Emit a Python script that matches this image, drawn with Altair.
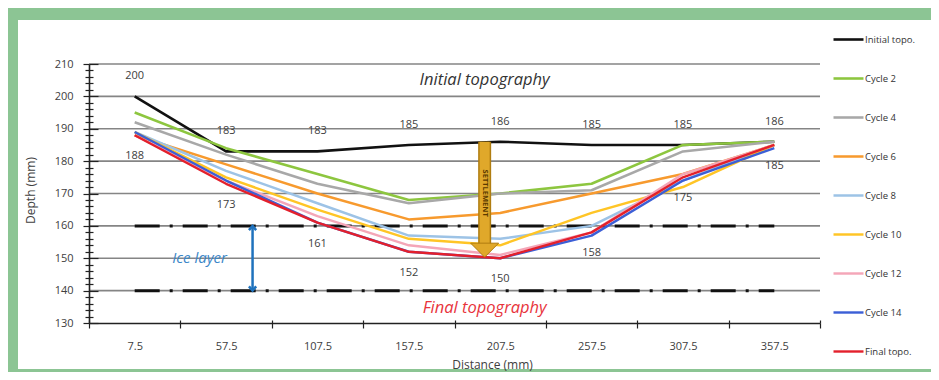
import altair as alt
import pandas as pd

# ---------------- data ----------------
distance = [7.5, 57.5, 107.5, 157.5, 207.5, 257.5, 307.5, 357.5]

series_names = ["Initial topo.", "Cycle 2", "Cycle 4", "Cycle 6", "Cycle 8",
                "Cycle 10", "Cycle 12", "Cycle 14", "Final topo."]
initial_topo = [200, 183, 183, 185, 186, 185, 185, 186]
cycle_2 = [195, 184, 176, 168, 170, 173, 185, 186]
cycle_4 = [192, 182, 173, 167, 170, 171, 183, 186]
cycle_6 = [188, 179, 170, 162, 164, 170, 176, 185]
cycle_8 = [189, 177, 167, 157, 156, 160, 174, 185]
cycle_10 = [189, 175, 165, 156, 154, 164, 172, 185]
cycle_12 = [188, 174, 163, 154, 151, 158, 176, 185]
cycle_14 = [189, 174, 161, 152, 150, 157, 174, 184]
final_topo = [188, 173, 161, 152, 150, 158, 175, 185]
all_series = [initial_topo, cycle_2, cycle_4, cycle_6, cycle_8,
              cycle_10, cycle_12, cycle_14, final_topo]

series_colors = ["#111111", "#8dc63f", "#a8a8a8", "#f79a2e", "#9dc3e6",
                 "#ffc526", "#f4a6b8", "#3c5fd6", "#e3202c"]
series_widths = [2.6, 2.4, 2, 2, 2, 2, 2, 2, 3]

ice_layer_limits = [160, 140]
grid_values = [140, 150, 160, 170, 180, 190, 200, 210]
y_domain = [130, 210]

# annotation anchors (data coordinates)
settle_x, settle_top, settle_shaft_end, settle_head = 199, 186, 154.2, 152.5
ice_arrow_x, ice_text_x, ice_text_y = 72, 43, 150
title_x, initial_title_y, final_title_y = 199, 205, 134.6

# ---------------- build tables ----------------
rows = []
for name, vals in zip(series_names, all_series):
    for d, v in zip(distance, vals):
        rows.append({"series": name, "dist": d, "depth": v})
df = pd.DataFrame(rows)

top_lbl = pd.DataFrame({"dist": distance, "v": initial_topo})
bot_lbl = pd.DataFrame({"dist": distance, "v": final_topo})

half = (distance[1] - distance[0]) / 2
x_lo, x_hi = distance[0] - half, distance[-1] + half
boundaries = [d - half for d in distance] + [x_hi]
x_tick_values = sorted(boundaries + distance)
y_tick_values = list(range(y_domain[0], y_domain[1] + 1, 2))

W, H = 731, 259
FONT = "Open Sans"
TXT = "#404040"

xscale = alt.Scale(domain=[x_lo, x_hi], nice=False, zero=False)
yscale = alt.Scale(domain=y_domain, nice=False, zero=False)

x_axis = alt.Axis(
    values=x_tick_values,
    labelExpr="((datum.value + 17.5) % 50 == 25) ? format(datum.value, '.1f') : ''",
    tickOpacity={"condition": {"test": "(datum.value + 17.5) % 50 == 0", "value": 1}, "value": 0},
    tickSize=5, tickColor="#222", tickWidth=1.2,
    domainColor="#222", domainWidth=1.6,
    labelPadding=12, labelFlush=False, labelOverlap=False,
    labelFont=FONT, labelFontSize=11, labelColor=TXT,
    grid=False,
    title="Distance (mm)", titleFont=FONT, titleFontSize=12, titleFontWeight="normal",
    titleColor=TXT, titleX=403, titleY=41, titleAlign="center", titleBaseline="middle",
    zindex=1,
)
x_axis_inner = alt.Axis(
    orient="top", offset=-H, values=boundaries, labels=False, domain=False,
    grid=False, title="", tickSize=3, tickColor="#222", tickWidth=1.2, zindex=1,
)
y_axis = alt.Axis(
    values=y_tick_values,
    labelExpr="datum.value % 10 == 0 ? datum.label : ''",
    tickSize={"condition": {"test": "datum.value % 10 == 0", "value": 6}, "value": 4},
    tickColor="#222", tickWidth=1.2,
    domainColor="#222", domainWidth=1.6,
    labelPadding=10, labelOverlap=False,
    labelFont=FONT, labelFontSize=11, labelColor=TXT,
    grid=False,
    title="Depth (mm)", titleFont=FONT, titleFontSize=12, titleFontWeight="normal",
    titleColor=TXT, titleX=-59, titleY=126, titleAngle=-90,
    titleAlign="center", titleBaseline="middle",
    zindex=1,
)
y_axis_inner = alt.Axis(
    orient="right", offset=-W, values=y_tick_values, labels=False, domain=False,
    grid=False, title="",
    tickSize={"condition": {"test": "datum.value % 10 == 0", "value": 9}, "value": 4},
    tickColor="#222", tickWidth=1.2, zindex=1,
)

one = pd.DataFrame({"a": [0]})

# white panel inside the green frame
panel = alt.Chart(one).mark_rect(color="white").encode(
    x=alt.value(-71), x2=alt.value(W + 111), y=alt.value(-44), y2=alt.value(H + 46)
)

grid = alt.Chart(pd.DataFrame({"g": grid_values})).mark_rule(
    color="#858585", strokeWidth=1.6
).encode(y=alt.Y("g:Q", scale=yscale, axis=y_axis_inner))

ice = alt.Chart(pd.DataFrame({"v": ice_layer_limits, "x0": distance[0], "x1": distance[-1]})).mark_rule(
    color="#111111", strokeWidth=3, strokeDash=[25, 10, 3, 10]
).encode(
    x=alt.X("x0:Q", scale=xscale, axis=x_axis_inner),
    x2="x1:Q",
    y=alt.Y("v:Q", scale=yscale, axis=None),
)

lines = alt.Chart(df).mark_line(strokeJoin="round").encode(
    x=alt.X("dist:Q", scale=xscale, axis=x_axis),
    y=alt.Y("depth:Q", scale=yscale, axis=y_axis),
    color=alt.Color(
        "series:N",
        scale=alt.Scale(domain=series_names, range=series_colors),
        sort=series_names,
        legend=alt.Legend(
            orient="none", legendX=743, legendY=-41, title=None,
            symbolType="stroke", symbolSize=900, symbolStrokeWidth=3,
            labelFont=FONT, labelFontSize=9.5, labelColor="#333",
            rowPadding=17, labelOffset=0, padding=0,
        ),
    ),
    strokeWidth=alt.StrokeWidth(
        "series:N", scale=alt.Scale(domain=series_names, range=series_widths), legend=None
    ),
)

xa = lambda f: alt.X(f, scale=xscale, axis=None)
ya = lambda f: alt.Y(f, scale=yscale, axis=None)

top_text = alt.Chart(top_lbl).mark_text(
    dy=-20, font=FONT, fontSize=11, color=TXT
).encode(x=xa("dist:Q"), y=ya("v:Q"), text="v:Q")
bot_text = alt.Chart(bot_lbl).mark_text(
    dy=21, font=FONT, fontSize=11, color=TXT
).encode(x=xa("dist:Q"), y=ya("v:Q"), text="v:Q")

# settlement arrow
settle_df = pd.DataFrame({"x": [settle_x], "y": [settle_top], "y2": [settle_shaft_end],
                          "h": [settle_head], "m": [(settle_top + settle_shaft_end) / 2]})
shaft_edge = alt.Chart(settle_df).mark_rule(color="#b07d10", strokeWidth=13).encode(
    x=xa("x:Q"), y=ya("y:Q"), y2="y2:Q")
shaft = alt.Chart(settle_df).mark_rule(color="#e0a82a", strokeWidth=10).encode(
    x=xa("x:Q"), y=ya("y:Q"), y2="y2:Q")
head = alt.Chart(settle_df).mark_point(
    shape="M-1,-0.5L1,-0.5L0,0.5Z", size=784, filled=True, fill="#e0a82a",
    stroke="#b07d10", strokeWidth=1, opacity=1
).encode(x=xa("x:Q"), y=ya("h:Q"))
settle_txt = alt.Chart(settle_df).mark_text(
    text="SETTLEMENT", angle=90, font=FONT, fontSize=7.5, fontWeight="bold", color="#5a3a00"
).encode(x=xa("x:Q"), y=ya("m:Q"))

# ice layer arrow
ice_df = pd.DataFrame({"x": [ice_arrow_x], "top": [ice_layer_limits[0]], "bot": [ice_layer_limits[1]],
                       "tx": [ice_text_x], "ty": [ice_text_y]})
ICE_BLUE = "#1f72bd"
ice_shaft = alt.Chart(ice_df).mark_rule(color=ICE_BLUE, strokeWidth=2.5).encode(
    x=xa("x:Q"), y=ya("top:Q"), y2="bot:Q")
ice_up = alt.Chart(ice_df).mark_point(
    shape="M-0.6,0.7L0,0L0.6,0.7", size=144, filled=False, color=ICE_BLUE, strokeWidth=2.5, opacity=1
).encode(x=xa("x:Q"), y=ya("top:Q"))
ice_down = alt.Chart(ice_df).mark_point(
    shape="M-0.6,-0.7L0,0L0.6,-0.7", size=144, filled=False, color=ICE_BLUE, strokeWidth=2.5, opacity=1
).encode(x=xa("x:Q"), y=ya("bot:Q"))
ice_txt = alt.Chart(ice_df).mark_text(
    text="Ice layer", font=FONT, fontSize=15, fontStyle="italic", color="#3a86c8"
).encode(x=xa("tx:Q"), y=ya("ty:Q"))

titles_df = pd.DataFrame({"x": [title_x], "yi": [initial_title_y], "yf": [final_title_y]})
init_title = alt.Chart(titles_df).mark_text(
    text="Initial topography", font=FONT, fontSize=16.5, fontStyle="italic", color="#333333"
).encode(x=xa("x:Q"), y=ya("yi:Q"))
final_title = alt.Chart(titles_df).mark_text(
    text="Final topography", font=FONT, fontSize=16.5, fontStyle="italic", color="#e8343c"
).encode(x=xa("x:Q"), y=ya("yf:Q"))

chart = alt.layer(
    panel, grid, ice, lines, top_text, bot_text,
    shaft_edge, shaft, head, settle_txt,
    ice_shaft, ice_up, ice_down, ice_txt,
    init_title, final_title,
).resolve_scale(x="shared", y="shared").resolve_axis(
    x="independent", y="independent"
).properties(
    width=W, height=H,
    background="#8cc594",
    padding={"left": 81, "top": 56, "right": 111, "bottom": 49},
    autosize=alt.AutoSizeParams(type="none"),
).configure_view(strokeWidth=0)

chart.save("out.html", embed_options={"renderer": "svg", "actions": False})
